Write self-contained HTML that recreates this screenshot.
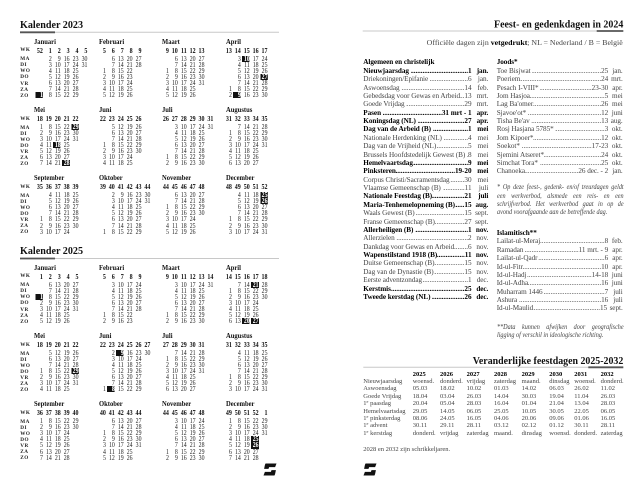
<!DOCTYPE html>
<html><head><meta charset="utf-8">
<style>
*{margin:0;padding:0;box-sizing:border-box}
html,body{width:640px;height:499px;background:#fff;overflow:hidden}
body{position:relative;font-family:"Liberation Serif",serif;color:#222}
.m{position:absolute;transform:scaleX(.8);transform-origin:0 0;font-size:7.3px;line-height:6.1px;color:#222}
.m p{display:flex;height:6.1px;white-space:nowrap}
.m p.w{height:10px;line-height:9px;font-weight:bold;font-size:7.5px;color:#111}
.m i{font-style:normal;width:11.125px;text-align:right;flex:none}
.m i.h{background:linear-gradient(90deg,transparent 1.8px,#111 1.8px);color:#fff;font-weight:bold}
.lb{position:absolute;left:20.3px;font-size:5.2px;font-weight:bold;letter-spacing:.45px;line-height:6.1px;color:#222}
.lb p{height:6.1px}
.lb p.w{height:10px;line-height:9px}
.mn{position:absolute;font-size:7.3px;font-weight:bold;line-height:8px;transform:scaleX(.9);transform-origin:0 0;white-space:nowrap;color:#111}
.L{position:absolute;font-size:7.2px;line-height:8.38px;color:#444;letter-spacing:-.05px}
.L .hd{height:8.38px;font-weight:bold;color:#000;white-space:nowrap}
.r{display:flex;height:8.38px;white-space:nowrap}
.r a{white-space:pre;color:inherit;flex:none}
.r q{flex:1 1 0;min-width:0;overflow:hidden;direction:rtl}
.r q::before{content:none}
.r q::after{content:"............................................................................................................................"}
.r b{font-weight:inherit;flex:none}
.r i{font-style:normal;flex:none;min-width:14.3px;margin-left:2.5px;text-align:right}
.R .r i{min-width:12px}
.r.b{font-weight:bold;color:#000}
.fn{position:absolute;font-size:7px;line-height:8.38px;font-style:italic;color:#444;transform:scaleX(.88);transform-origin:0 0;width:143.9px}
.fn div{height:8.38px;white-space:nowrap}
.fn .j{text-align:justify;text-align-last:justify;white-space:normal}
.T{position:absolute;left:363.3px;top:370.7px;font-size:6.5px;line-height:7.4px;color:#444}
.T div{display:flex;height:7.4px;white-space:nowrap}
.T span{flex:none}
.T span:nth-child(1){width:49.4px}
.T span:nth-child(2){width:27.3px}
.T span:nth-child(3){width:26.7px}
.T span:nth-child(4){width:27.3px}
.T span:nth-child(5){width:27.7px}
.T span:nth-child(6){width:27.6px}
.T span:nth-child(7){width:25px}
.T span:nth-child(8){width:26.4px}
.T span:nth-child(9){width:30px}
.T .th{font-weight:bold;color:#000}
.T sup{font-size:4.3px;vertical-align:2.2px;line-height:0}
.note{position:absolute;left:363.3px;top:445.5px;font-size:6.5px;line-height:7px;color:#444;white-space:nowrap}
</style></head><body>

<svg width="640" height="499" style="position:absolute;left:0;top:0">
<g font-family="Liberation Serif" font-weight="bold" fill="#111" font-size="11">
<text x="20" y="28" textLength="63" lengthAdjust="spacingAndGlyphs">Kalender 2023</text>
<text x="20" y="254" textLength="63" lengthAdjust="spacingAndGlyphs">Kalender 2025</text>
<text x="494" y="27.3" textLength="129.3" lengthAdjust="spacingAndGlyphs">Feest- en gedenkdagen in 2024</text>
<text x="472.7" y="364.2" textLength="150.6" lengthAdjust="spacingAndGlyphs">Veranderlijke feestdagen 2025-2032</text>
</g>
<text x="426.7" y="44.8" font-family="Liberation Serif" font-size="7.5" fill="#444" textLength="196" lengthAdjust="spacingAndGlyphs">Officiële dagen zijn <tspan font-weight="bold" fill="#000">vetgedrukt</tspan>; NL = Nederland / B = België</text>
<line x1="20" y1="32.3" x2="279" y2="32.3" stroke="#c8c8c8" stroke-width="1"/>
<line x1="20" y1="32.3" x2="55" y2="32.3" stroke="#555" stroke-width="1.8"/>
<line x1="20" y1="258.5" x2="279" y2="258.5" stroke="#c8c8c8" stroke-width="1"/>
<line x1="20" y1="258.5" x2="55" y2="258.5" stroke="#555" stroke-width="1.8"/>
<line x1="362.7" y1="31" x2="623.3" y2="31" stroke="#c8c8c8" stroke-width="1"/>
<line x1="596.7" y1="31" x2="623.3" y2="31" stroke="#555" stroke-width="1.8"/>
<line x1="363.3" y1="367.3" x2="623.3" y2="367.3" stroke="#c8c8c8" stroke-width="1"/>
<line x1="588.3" y1="367.3" x2="623.3" y2="367.3" stroke="#555" stroke-width="1.8"/>
<g fill="#111">
<g transform="translate(263.5,463.5)"><path d="M2.2,0 H13 L11.6,3.6 H5.6 L5,5.4 H0.6 L1.3,2 Q1.8,0 2.2,0 Z"/><path d="M10.8,12 H0 L1.4,8.4 H7.4 L8,6.6 H12.4 L11.7,10 Q11.2,12 10.8,12 Z"/></g>
<g transform="translate(363.5,463.5)"><path d="M2.2,0 H13 L11.6,3.6 H5.6 L5,5.4 H0.6 L1.3,2 Q1.8,0 2.2,0 Z"/><path d="M10.8,12 H0 L1.4,8.4 H7.4 L8,6.6 H12.4 L11.7,10 Q11.2,12 10.8,12 Z"/></g>
</g>
</svg>

<!-- ===== 2023 ===== -->
<div class="lb" style="top:46.2px"><p class="w">WK</p><p>MA</p><p>DI</p><p>WO</p><p>DO</p><p>VR</p><p>ZA</p><p>ZO</p></div>
<div class="lb" style="top:114.5px"><p class="w">WK</p><p>MA</p><p>DI</p><p>WO</p><p>DO</p><p>VR</p><p>ZA</p><p>ZO</p></div>
<div class="lb" style="top:182.8px"><p class="w">WK</p><p>MA</p><p>DI</p><p>WO</p><p>DO</p><p>VR</p><p>ZA</p><p>ZO</p></div>

<div class="mn" style="left:34.3px;top:37.5px">Januari</div>
<div class="mn" style="left:98.8px;top:37.5px">Februari</div>
<div class="mn" style="left:161.8px;top:37.5px">Maart</div>
<div class="mn" style="left:225.8px;top:37.5px">April</div>
<div class="mn" style="left:34.3px;top:105.8px">Mei</div>
<div class="mn" style="left:98.8px;top:105.8px">Juni</div>
<div class="mn" style="left:161.8px;top:105.8px">Juli</div>
<div class="mn" style="left:225.8px;top:105.8px">Augustus</div>
<div class="mn" style="left:34.3px;top:174.1px">September</div>
<div class="mn" style="left:98.8px;top:174.1px">Oktober</div>
<div class="mn" style="left:161.8px;top:174.1px">November</div>
<div class="mn" style="left:225.8px;top:174.1px">December</div>

<div class="m" style="left:33.6px;top:45.5px"><p class="w"><i>52</i><i>1</i><i>2</i><i>3</i><i>4</i><i>5</i></p><p><i></i><i>2</i><i>9</i><i>16</i><i>23</i><i>30</i></p><p><i></i><i>3</i><i>10</i><i>17</i><i>24</i><i>31</i></p><p><i></i><i>4</i><i>11</i><i>18</i><i>25</i></p><p><i></i><i>5</i><i>12</i><i>19</i><i>26</i></p><p><i></i><i>6</i><i>13</i><i>20</i><i>27</i></p><p><i></i><i>7</i><i>14</i><i>21</i><i>28</i></p><p><i class="h">1</i><i>8</i><i>15</i><i>22</i><i>29</i></p></div>

<div class="m" style="left:96.8px;top:45.5px"><p class="w"><i>5</i><i>6</i><i>7</i><i>8</i><i>9</i></p><p><i></i><i>6</i><i>13</i><i>20</i><i>27</i></p><p><i></i><i>7</i><i>14</i><i>21</i><i>28</i></p><p><i>1</i><i>8</i><i>15</i><i>22</i></p><p><i>2</i><i>9</i><i>16</i><i>23</i></p><p><i>3</i><i>10</i><i>17</i><i>24</i></p><p><i>4</i><i>11</i><i>18</i><i>25</i></p><p><i>5</i><i>12</i><i>19</i><i>26</i></p></div>

<div class="m" style="left:160px;top:45.5px"><p class="w"><i>9</i><i>10</i><i>11</i><i>12</i><i>13</i></p><p><i></i><i>6</i><i>13</i><i>20</i><i>27</i></p><p><i></i><i>7</i><i>14</i><i>21</i><i>28</i></p><p><i>1</i><i>8</i><i>15</i><i>22</i><i>29</i></p><p><i>2</i><i>9</i><i>16</i><i>23</i><i>30</i></p><p><i>3</i><i>10</i><i>17</i><i>24</i><i>31</i></p><p><i>4</i><i>11</i><i>18</i><i>25</i></p><p><i>5</i><i>12</i><i>19</i><i>26</i></p></div>

<div class="m" style="left:223.2px;top:45.5px"><p class="w"><i>13</i><i>14</i><i>15</i><i>16</i><i>17</i></p><p><i></i><i>3</i><i class="h">10</i><i>17</i><i>24</i></p><p><i></i><i>4</i><i>11</i><i>18</i><i>25</i></p><p><i></i><i>5</i><i>12</i><i>19</i><i>26</i></p><p><i></i><i>6</i><i>13</i><i>20</i><i class="h">27</i></p><p><i></i><i>7</i><i>14</i><i>21</i><i>28</i></p><p><i>1</i><i>8</i><i>15</i><i>22</i><i>29</i></p><p><i>2</i><i class="h">9</i><i>16</i><i>23</i><i>30</i></p></div>

<div class="m" style="left:33.6px;top:113.8px"><p class="w"><i>18</i><i>19</i><i>20</i><i>21</i><i>22</i></p><p><i>1</i><i>8</i><i>15</i><i>22</i><i class="h">29</i></p><p><i>2</i><i>9</i><i>16</i><i>23</i><i>30</i></p><p><i>3</i><i>10</i><i>17</i><i>24</i><i>31</i></p><p><i>4</i><i>11</i><i class="h">18</i><i>25</i></p><p><i>5</i><i>12</i><i>19</i><i>26</i></p><p><i>6</i><i>13</i><i>20</i><i>27</i></p><p><i>7</i><i>14</i><i>21</i><i class="h">28</i></p></div>

<div class="m" style="left:96.8px;top:113.8px"><p class="w"><i>22</i><i>23</i><i>24</i><i>25</i><i>26</i></p><p><i></i><i>5</i><i>12</i><i>19</i><i>26</i></p><p><i></i><i>6</i><i>13</i><i>20</i><i>27</i></p><p><i></i><i>7</i><i>14</i><i>21</i><i>28</i></p><p><i>1</i><i>8</i><i>15</i><i>22</i><i>29</i></p><p><i>2</i><i>9</i><i>16</i><i>23</i><i>30</i></p><p><i>3</i><i>10</i><i>17</i><i>24</i></p><p><i>4</i><i>11</i><i>18</i><i>25</i></p></div>

<div class="m" style="left:160px;top:113.8px"><p class="w"><i>26</i><i>27</i><i>28</i><i>29</i><i>30</i><i>31</i></p><p><i></i><i>3</i><i>10</i><i>17</i><i>24</i><i>31</i></p><p><i></i><i>4</i><i>11</i><i>18</i><i>25</i></p><p><i></i><i>5</i><i>12</i><i>19</i><i>26</i></p><p><i></i><i>6</i><i>13</i><i>20</i><i>27</i></p><p><i></i><i>7</i><i>14</i><i>21</i><i>28</i></p><p><i>1</i><i>8</i><i>15</i><i>22</i><i>29</i></p><p><i>2</i><i>9</i><i>16</i><i>23</i><i>30</i></p></div>

<div class="m" style="left:223.2px;top:113.8px"><p class="w"><i>31</i><i>32</i><i>33</i><i>34</i><i>35</i></p><p><i></i><i>7</i><i>14</i><i>21</i><i>28</i></p><p><i>1</i><i>8</i><i>15</i><i>22</i><i>29</i></p><p><i>2</i><i>9</i><i>16</i><i>23</i><i>30</i></p><p><i>3</i><i>10</i><i>17</i><i>24</i><i>31</i></p><p><i>4</i><i>11</i><i>18</i><i>25</i></p><p><i>5</i><i>12</i><i>19</i><i>26</i></p><p><i>6</i><i>13</i><i>20</i><i>27</i></p></div>

<div class="m" style="left:33.6px;top:182.1px"><p class="w"><i>35</i><i>36</i><i>37</i><i>38</i><i>39</i></p><p><i></i><i>4</i><i>11</i><i>18</i><i>25</i></p><p><i></i><i>5</i><i>12</i><i>19</i><i>26</i></p><p><i></i><i>6</i><i>13</i><i>20</i><i>27</i></p><p><i></i><i>7</i><i>14</i><i>21</i><i>28</i></p><p><i>1</i><i>8</i><i>15</i><i>22</i><i>29</i></p><p><i>2</i><i>9</i><i>16</i><i>23</i><i>30</i></p><p><i>3</i><i>10</i><i>17</i><i>24</i></p></div>

<div class="m" style="left:96.8px;top:182.1px"><p class="w"><i>39</i><i>40</i><i>41</i><i>42</i><i>43</i><i>44</i></p><p><i></i><i>2</i><i>9</i><i>16</i><i>23</i><i>30</i></p><p><i></i><i>3</i><i>10</i><i>17</i><i>24</i><i>31</i></p><p><i></i><i>4</i><i>11</i><i>18</i><i>25</i></p><p><i></i><i>5</i><i>12</i><i>19</i><i>26</i></p><p><i></i><i>6</i><i>13</i><i>20</i><i>27</i></p><p><i></i><i>7</i><i>14</i><i>21</i><i>28</i></p><p><i>1</i><i>8</i><i>15</i><i>22</i><i>29</i></p></div>

<div class="m" style="left:160px;top:182.1px"><p class="w"><i>44</i><i>45</i><i>46</i><i>47</i><i>48</i></p><p><i></i><i>6</i><i>13</i><i>20</i><i>27</i></p><p><i></i><i>7</i><i>14</i><i>21</i><i>28</i></p><p><i>1</i><i>8</i><i>15</i><i>22</i><i>29</i></p><p><i>2</i><i>9</i><i>16</i><i>23</i><i>30</i></p><p><i>3</i><i>10</i><i>17</i><i>24</i></p><p><i>4</i><i>11</i><i>18</i><i>25</i></p><p><i>5</i><i>12</i><i>19</i><i>26</i></p></div>

<div class="m" style="left:223.2px;top:182.1px"><p class="w"><i>48</i><i>49</i><i>50</i><i>51</i><i>52</i></p><p><i></i><i>4</i><i>11</i><i>18</i><i class="h">25</i></p><p><i></i><i>5</i><i>12</i><i>19</i><i class="h">26</i></p><p><i></i><i>6</i><i>13</i><i>20</i><i>27</i></p><p><i></i><i>7</i><i>14</i><i>21</i><i>28</i></p><p><i>1</i><i>8</i><i>15</i><i>22</i><i>29</i></p><p><i>2</i><i>9</i><i>16</i><i>23</i><i>30</i></p><p><i>3</i><i>10</i><i>17</i><i>24</i><i>31</i></p></div>

<!-- ===== 2025 ===== -->
<div class="lb" style="top:272.2px"><p class="w">WK</p><p>MA</p><p>DI</p><p>WO</p><p>DO</p><p>VR</p><p>ZA</p><p>ZO</p></div>
<div class="lb" style="top:340.5px"><p class="w">WK</p><p>MA</p><p>DI</p><p>WO</p><p>DO</p><p>VR</p><p>ZA</p><p>ZO</p></div>
<div class="lb" style="top:408.8px"><p class="w">WK</p><p>MA</p><p>DI</p><p>WO</p><p>DO</p><p>VR</p><p>ZA</p><p>ZO</p></div>

<div class="mn" style="left:34.3px;top:263.5px">Januari</div>
<div class="mn" style="left:98.8px;top:263.5px">Februari</div>
<div class="mn" style="left:161.8px;top:263.5px">Maart</div>
<div class="mn" style="left:225.8px;top:263.5px">April</div>
<div class="mn" style="left:34.3px;top:331.8px">Mei</div>
<div class="mn" style="left:98.8px;top:331.8px">Juni</div>
<div class="mn" style="left:161.8px;top:331.8px">Juli</div>
<div class="mn" style="left:225.8px;top:331.8px">Augustus</div>
<div class="mn" style="left:34.3px;top:400.1px">September</div>
<div class="mn" style="left:98.8px;top:400.1px">Oktober</div>
<div class="mn" style="left:161.8px;top:400.1px">November</div>
<div class="mn" style="left:225.8px;top:400.1px">December</div>

<div class="m" style="left:33.6px;top:271.5px"><p class="w"><i>1</i><i>2</i><i>3</i><i>4</i><i>5</i></p><p><i></i><i>6</i><i>13</i><i>20</i><i>27</i></p><p><i></i><i>7</i><i>14</i><i>21</i><i>28</i></p><p><i class="h">1</i><i>8</i><i>15</i><i>22</i><i>29</i></p><p><i>2</i><i>9</i><i>16</i><i>23</i><i>30</i></p><p><i>3</i><i>10</i><i>17</i><i>24</i><i>31</i></p><p><i>4</i><i>11</i><i>18</i><i>25</i></p><p><i>5</i><i>12</i><i>19</i><i>26</i></p></div>

<div class="m" style="left:96.8px;top:271.5px"><p class="w"><i>5</i><i>6</i><i>7</i><i>8</i><i>9</i></p><p><i></i><i>3</i><i>10</i><i>17</i><i>24</i></p><p><i></i><i>4</i><i>11</i><i>18</i><i>25</i></p><p><i></i><i>5</i><i>12</i><i>19</i><i>26</i></p><p><i></i><i>6</i><i>13</i><i>20</i><i>27</i></p><p><i></i><i>7</i><i>14</i><i>21</i><i>28</i></p><p><i>1</i><i>8</i><i>15</i><i>22</i></p><p><i>2</i><i>9</i><i>16</i><i>23</i></p></div>

<div class="m" style="left:160px;top:271.5px"><p class="w"><i>9</i><i>10</i><i>11</i><i>12</i><i>13</i><i>14</i></p><p><i></i><i>3</i><i>10</i><i>17</i><i>24</i><i>31</i></p><p><i></i><i>4</i><i>11</i><i>18</i><i>25</i></p><p><i></i><i>5</i><i>12</i><i>19</i><i>26</i></p><p><i></i><i>6</i><i>13</i><i>20</i><i>27</i></p><p><i></i><i>7</i><i>14</i><i>21</i><i>28</i></p><p><i>1</i><i>8</i><i>15</i><i>22</i><i>29</i></p><p><i>2</i><i>9</i><i>16</i><i>23</i><i>30</i></p></div>

<div class="m" style="left:223.2px;top:271.5px"><p class="w"><i>14</i><i>15</i><i>16</i><i>17</i><i>18</i></p><p><i></i><i>7</i><i>14</i><i class="h">21</i><i>28</i></p><p><i>1</i><i>8</i><i>15</i><i>22</i><i>29</i></p><p><i>2</i><i>9</i><i>16</i><i>23</i><i>30</i></p><p><i>3</i><i>10</i><i>17</i><i>24</i></p><p><i>4</i><i>11</i><i>18</i><i>25</i></p><p><i>5</i><i>12</i><i>19</i><i>26</i></p><p><i>6</i><i>13</i><i class="h">20</i><i class="h">27</i></p></div>

<div class="m" style="left:33.6px;top:339.8px"><p class="w"><i>18</i><i>19</i><i>20</i><i>21</i><i>22</i></p><p><i></i><i>5</i><i>12</i><i>19</i><i>26</i></p><p><i></i><i>6</i><i>13</i><i>20</i><i>27</i></p><p><i></i><i>7</i><i>14</i><i>21</i><i>28</i></p><p><i>1</i><i>8</i><i>15</i><i>22</i><i class="h">29</i></p><p><i>2</i><i>9</i><i>16</i><i>23</i><i>30</i></p><p><i>3</i><i>10</i><i>17</i><i>24</i><i>31</i></p><p><i>4</i><i>11</i><i>18</i><i>25</i></p></div>

<div class="m" style="left:96.8px;top:339.8px"><p class="w"><i>22</i><i>23</i><i>24</i><i>25</i><i>26</i><i>27</i></p><p><i></i><i>2</i><i class="h">9</i><i>16</i><i>23</i><i>30</i></p><p><i></i><i>3</i><i>10</i><i>17</i><i>24</i></p><p><i></i><i>4</i><i>11</i><i>18</i><i>25</i></p><p><i></i><i>5</i><i>12</i><i>19</i><i>26</i></p><p><i></i><i>6</i><i>13</i><i>20</i><i>27</i></p><p><i></i><i>7</i><i>14</i><i>21</i><i>28</i></p><p><i>1</i><i class="h">8</i><i>15</i><i>22</i><i>29</i></p></div>

<div class="m" style="left:160px;top:339.8px"><p class="w"><i>27</i><i>28</i><i>29</i><i>30</i><i>31</i></p><p><i></i><i>7</i><i>14</i><i>21</i><i>28</i></p><p><i>1</i><i>8</i><i>15</i><i>22</i><i>29</i></p><p><i>2</i><i>9</i><i>16</i><i>23</i><i>30</i></p><p><i>3</i><i>10</i><i>17</i><i>24</i><i>31</i></p><p><i>4</i><i>11</i><i>18</i><i>25</i></p><p><i>5</i><i>12</i><i>19</i><i>26</i></p><p><i>6</i><i>13</i><i>20</i><i>27</i></p></div>

<div class="m" style="left:223.2px;top:339.8px"><p class="w"><i>31</i><i>32</i><i>33</i><i>34</i><i>35</i></p><p><i></i><i>4</i><i>11</i><i>18</i><i>25</i></p><p><i></i><i>5</i><i>12</i><i>19</i><i>26</i></p><p><i></i><i>6</i><i>13</i><i>20</i><i>27</i></p><p><i></i><i>7</i><i>14</i><i>21</i><i>28</i></p><p><i>1</i><i>8</i><i>15</i><i>22</i><i>29</i></p><p><i>2</i><i>9</i><i>16</i><i>23</i><i>30</i></p><p><i>3</i><i>10</i><i>17</i><i>24</i><i>31</i></p></div>

<div class="m" style="left:33.6px;top:408.1px"><p class="w"><i>36</i><i>37</i><i>38</i><i>39</i><i>40</i></p><p><i>1</i><i>8</i><i>15</i><i>22</i><i>29</i></p><p><i>2</i><i>9</i><i>16</i><i>23</i><i>30</i></p><p><i>3</i><i>10</i><i>17</i><i>24</i></p><p><i>4</i><i>11</i><i>18</i><i>25</i></p><p><i>5</i><i>12</i><i>19</i><i>26</i></p><p><i>6</i><i>13</i><i>20</i><i>27</i></p><p><i>7</i><i>14</i><i>21</i><i>28</i></p></div>

<div class="m" style="left:96.8px;top:408.1px"><p class="w"><i>40</i><i>41</i><i>42</i><i>43</i><i>44</i></p><p><i></i><i>6</i><i>13</i><i>20</i><i>27</i></p><p><i></i><i>7</i><i>14</i><i>21</i><i>28</i></p><p><i>1</i><i>8</i><i>15</i><i>22</i><i>29</i></p><p><i>2</i><i>9</i><i>16</i><i>23</i><i>30</i></p><p><i>3</i><i>10</i><i>17</i><i>24</i><i>31</i></p><p><i>4</i><i>11</i><i>18</i><i>25</i></p><p><i>5</i><i>12</i><i>19</i><i>26</i></p></div>

<div class="m" style="left:160px;top:408.1px"><p class="w"><i>44</i><i>45</i><i>46</i><i>47</i><i>48</i></p><p><i></i><i>3</i><i>10</i><i>17</i><i>24</i></p><p><i></i><i>4</i><i>11</i><i>18</i><i>25</i></p><p><i></i><i>5</i><i>12</i><i>19</i><i>26</i></p><p><i></i><i>6</i><i>13</i><i>20</i><i>27</i></p><p><i></i><i>7</i><i>14</i><i>21</i><i>28</i></p><p><i>1</i><i>8</i><i>15</i><i>22</i><i>29</i></p><p><i>2</i><i>9</i><i>16</i><i>23</i><i>30</i></p></div>

<div class="m" style="left:223.2px;top:408.1px"><p class="w"><i>49</i><i>50</i><i>51</i><i>52</i><i>1</i></p><p><i>1</i><i>8</i><i>15</i><i>22</i><i>29</i></p><p><i>2</i><i>9</i><i>16</i><i>23</i><i>30</i></p><p><i>3</i><i>10</i><i>17</i><i>24</i><i>31</i></p><p><i>4</i><i>11</i><i>18</i><i class="h">25</i></p><p><i>5</i><i>12</i><i>19</i><i class="h">26</i></p><p><i>6</i><i>13</i><i>20</i><i>27</i></p><p><i>7</i><i>14</i><i>21</i><i>28</i></p></div>

<!-- ===== Right page: Algemeen ===== -->
<div class="L" style="left:363.3px;top:58.4px;width:125px">
<div class="hd">Algemeen en christelijk</div>
<div class="r b"><a>Nieuwjaarsdag </a><q></q><b>1</b><i>jan.</i></div>
<div class="r"><a>Driekoningen/Epifanie </a><q></q><b>6</b><i>jan.</i></div>
<div class="r"><a>Aswoensdag </a><q></q><b>14</b><i>feb.</i></div>
<div class="r"><a>Gebedsdag voor Gewas en Arbeid</a><q></q><b>13</b><i>mrt.</i></div>
<div class="r"><a>Goede Vrijdag </a><q></q><b>29</b><i>mrt.</i></div>
<div class="r b"><a>Pasen </a><q></q><b>31 mrt - 1</b><i>apr.</i></div>
<div class="r b"><a>Koningsdag (NL) </a><q></q><b>27</b><i>apr.</i></div>
<div class="r b"><a>Dag van de Arbeid (B) </a><q></q><b>1</b><i>mei</i></div>
<div class="r"><a>Nationale Herdenking (NL) </a><q></q><b>4</b><i>mei</i></div>
<div class="r"><a>Dag van de Vrijheid (NL)</a><q></q><b>5</b><i>mei</i></div>
<div class="r"><a>Brussels Hoofdstedelijk Gewest (B) </a><q></q><b>8</b><i>mei</i></div>
<div class="r b"><a>Hemelvaartsdag</a><q></q><b>9</b><i>mei</i></div>
<div class="r b"><a>Pinksteren</a><q></q><b>19-20</b><i>mei</i></div>
<div class="r"><a>Corpus Christi/Sacramentsdag</a><q></q><b>30</b><i>mei</i></div>
<div class="r"><a>Vlaamse Gemeenschap (B) </a><q></q><b>11</b><i>juli</i></div>
<div class="r b"><a>Nationale Feestdag (B)</a><q></q><b>21</b><i>juli</i></div>
<div class="r b"><a>Maria-Tenhemelopneming (B)</a><q></q><b>15</b><i>aug.</i></div>
<div class="r"><a>Waals Gewest (B) </a><q></q><b>15</b><i>sept.</i></div>
<div class="r"><a>Franse Gemeenschap (B)</a><q></q><b>27</b><i>sept.</i></div>
<div class="r b"><a>Allerheiligen (B) </a><q></q><b>1</b><i>nov.</i></div>
<div class="r"><a>Allerzielen </a><q></q><b>2</b><i>nov.</i></div>
<div class="r"><a>Dankdag voor Gewas en Arbeid</a><q></q><b>6</b><i>nov.</i></div>
<div class="r b"><a>Wapenstilstand 1918 (B)</a><q></q><b>11</b><i>nov.</i></div>
<div class="r"><a>Duitse Gemeenschap (B)</a><q></q><b>15</b><i>nov.</i></div>
<div class="r"><a>Dag van de Dynastie (B)</a><q></q><b>15</b><i>nov.</i></div>
<div class="r"><a>Eerste adventzondag</a><q></q><b>1</b><i>dec.</i></div>
<div class="r b"><a>Kerstmis</a><q></q><b>25</b><i>dec.</i></div>
<div class="r b"><a>Tweede kerstdag (NL) </a><q></q><b>26</b><i>dec.</i></div>
</div>

<!-- Joods -->
<div class="L R" style="left:496.7px;top:58.4px;width:126px">
<div class="hd">Joods*</div>
<div class="r"><a>Toe Bisjwat </a><q></q><b>25</b><i>jan.</i></div>
<div class="r"><a>Poeriem</a><q></q><b>24</b><i>mrt.</i></div>
<div class="r"><a>Pesach I-VIII* </a><q></q><b>23-30</b><i>apr.</i></div>
<div class="r"><a>Jom Hasjoa</a><q></q><b>5</b><i>mei</i></div>
<div class="r"><a>Lag Ba'omer</a><q></q><b>26</b><i>mei</i></div>
<div class="r"><a>Sjavoe'ot* </a><q></q><b>12</b><i>juni</i></div>
<div class="r"><a>Tisha Be'av </a><q></q><b>13</b><i>aug.</i></div>
<div class="r"><a>Rosj Hasjana 5785* </a><q></q><b>3</b><i>okt.</i></div>
<div class="r"><a>Jom Kipoer*</a><q></q><b>12</b><i>okt.</i></div>
<div class="r"><a>Soekot* </a><q></q><b>17-23</b><i>okt.</i></div>
<div class="r"><a>Sjemini Atseret*</a><q></q><b>24</b><i>okt.</i></div>
<div class="r"><a>Simchat Tora* </a><q></q><b>25</b><i>okt.</i></div>
<div class="r"><a>Chanoeka</a><q></q><b>26 dec. - 2</b><i>jan.</i></div>
</div>

<div class="fn" style="left:496.7px;top:183.3px">
<div class="j">* Op deze feest-, gedenk- en/of treurdagen geldt</div>
<div class="j">een werkverbod, alsmede een reis- en een</div>
<div class="j">schrijfverbod. Het werkverbod gaat in op de</div>
<div>avond voorafgaande aan de betreffende dag.</div>
</div>

<!-- Islamitisch -->
<div class="L R" style="left:496.7px;top:229.1px;width:126px">
<div class="hd">Islamitisch**</div>
<div class="r"><a>Lailat-ul-Meraj</a><q></q><b>8</b><i>feb.</i></div>
<div class="r"><a>Ramadan </a><q></q><b>11 mrt. - 9</b><i>apr.</i></div>
<div class="r"><a>Lailat-ul-Qadr</a><q></q><b>6</b><i>apr.</i></div>
<div class="r"><a>Id-ul-Fitr</a><q></q><b>10</b><i>apr.</i></div>
<div class="r"><a>Id-ul-Hadj</a><q></q><b>14-18</b><i>juni</i></div>
<div class="r"><a>Id-ul-Adha</a><q></q><b>16</b><i>juni</i></div>
<div class="r"><a>Muharram 1446 </a><q></q><b>7</b><i>juli</i></div>
<div class="r"><a>Ashura </a><q></q><b>16</b><i>juli</i></div>
<div class="r"><a>Id-ul-Maulid</a><q></q><b>15</b><i>sept.</i></div>
</div>

<div class="fn" style="left:496.7px;top:323px">
<div class="j">**Data kunnen afwijken door geografische</div>
<div>ligging of verschil in ideologische richting.</div>
</div>

<!-- Table -->
<div class="T">
<div class="th"><span></span><span>2025</span><span>2026</span><span>2027</span><span>2028</span><span>2029</span><span>2030</span><span>2031</span><span>2032</span></div>
<div><span>Nieuwjaarsdag</span><span>woensd.</span><span>donderd.</span><span>vrijdag</span><span>zaterdag</span><span>maand.</span><span>dinsdag</span><span>woensd.</span><span>donderd.</span></div>
<div><span>Aswoensdag</span><span>05.03</span><span>18.02</span><span>10.02</span><span>01.03</span><span>14.02</span><span>06.03</span><span>26.02</span><span>11.02</span></div>
<div><span>Goede Vrijdag</span><span>18.04</span><span>03.04</span><span>26.03</span><span>14.04</span><span>30.03</span><span>19.04</span><span>11.04</span><span>26.03</span></div>
<div><span>1<sup>e</sup> paasdag</span><span>20.04</span><span>05.04</span><span>28.03</span><span>16.04</span><span>01.04</span><span>21.04</span><span>13.04</span><span>28.03</span></div>
<div><span>Hemelvaartsdag</span><span>29.05</span><span>14.05</span><span>06.05</span><span>25.05</span><span>10.05</span><span>30.05</span><span>22.05</span><span>06.05</span></div>
<div><span>1<sup>e</sup> pinksterdag</span><span>08.06</span><span>24.05</span><span>16.05</span><span>04.06</span><span>20.06</span><span>09.06</span><span>01.06</span><span>16.05</span></div>
<div><span>1<sup>e</sup> advent</span><span>30.11</span><span>29.11</span><span>28.11</span><span>03.12</span><span>02.12</span><span>01.12</span><span>30.11</span><span>28.11</span></div>
<div><span>1<sup>e</sup> kerstdag</span><span>donderd.</span><span>vrijdag</span><span>zaterdag</span><span>maand.</span><span>dinsdag</span><span>woensd.</span><span>donderd.</span><span>zaterdag</span></div>
</div>

<div class="note">2028 en 2032 zijn schrikkeljaren.</div>

</body></html>
